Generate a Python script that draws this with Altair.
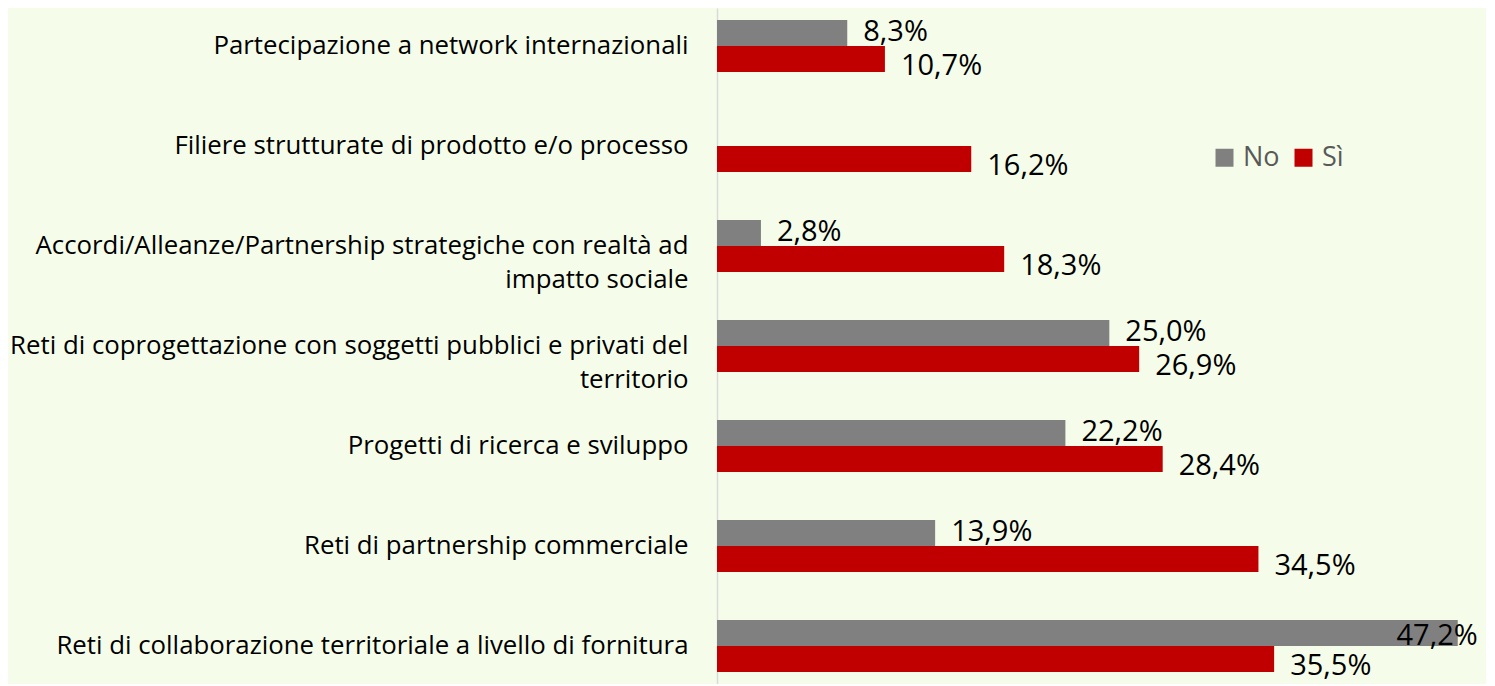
import altair as alt
import pandas as pd

categories = [
    "Partecipazione a network internazionali",
    "Filiere strutturate di prodotto e/o processo",
    "Accordi/Alleanze/Partnership strategiche con realtà ad\nimpatto sociale",
    "Reti di coprogettazione con soggetti pubblici e privati del\nterritorio",
    "Progetti di ricerca e sviluppo",
    "Reti di partnership commerciale",
    "Reti di collaborazione territoriale a livello di fornitura",
]
series = ["No", "Sì"]
values_no = [8.3, None, 2.8, 25.0, 22.2, 13.9, 47.2]
values_si = [10.7, 16.2, 18.3, 26.9, 28.4, 34.5, 35.5]
colors = ["#808080", "#C00000"]

rows = []
for c, n, s in zip(categories, values_no, values_si):
    if n is not None:
        rows.append({"cat": c, "serie": "No", "v": n})
    rows.append({"cat": c, "serie": "Sì", "v": s})
df = pd.DataFrame(rows)
df["lab"] = df["v"].map(lambda x: f"{x:.1f}%".replace(".", ","))

FONT = "Open Sans"

y_enc = alt.Y(
    "cat:N",
    sort=categories,
    scale=alt.Scale(paddingInner=0.48, paddingOuter=0.12),
    axis=alt.Axis(
        title=None,
        labelExpr="split(datum.label, '\\n')",
        labelFont=FONT,
        labelFontSize=25.8,
        labelColor="#000000",
        labelPadding=29,
        labelLineHeight=34,
        labelLimit=0,
        ticks=False,
        domainColor="#D9D9D9",
        domainWidth=1.5,
        grid=False,
    ),
)
yoff = alt.YOffset("serie:N", sort=series, scale=alt.Scale(paddingInner=0, paddingOuter=0))
x_enc = alt.X("v:Q", scale=alt.Scale(domain=[0, 49], nice=False), axis=None)

base = alt.Chart(df)

bars = base.mark_bar().encode(
    y=y_enc,
    yOffset=yoff,
    x=x_enc,
    color=alt.Color(
        "serie:N",
        sort=series,
        scale=alt.Scale(domain=series, range=colors),
        legend=alt.Legend(
            title=None,
            orient="none",
            direction="horizontal",
            legendX=494,
            legendY=136,
            symbolType="square",
            symbolSize=324,
            symbolStrokeWidth=0,
            labelFont=FONT,
            labelFontSize=27,
            labelColor="#595959",
            labelOffset=5,
            padding=0,
        ),
    ),
)

text_style = dict(baseline="middle", font=FONT, fontSize=29, color="#000000")

labels_no = base.transform_filter("datum.v <= 45 && datum.serie == 'No'").mark_text(
    align="left", dx=16, dy=-1, **text_style
).encode(y=y_enc, yOffset=yoff, x=x_enc, text="lab:N")

labels_si = base.transform_filter("datum.v <= 45 && datum.serie == 'Sì'").mark_text(
    align="left", dx=16, dy=7, **text_style
).encode(y=y_enc, yOffset=yoff, x=x_enc, text="lab:N")

labels_in = base.transform_filter("datum.v > 45").mark_text(
    align="right", dx=20, dy=3, **text_style
).encode(y=y_enc, yOffset=yoff, x=x_enc, text="lab:N")

chart = (
    alt.layer(bars, labels_no, labels_si, labels_in)
    .properties(
        width=769,
        height=676,
        autosize=alt.AutoSizeParams(type="none"),
        padding={"left": 709, "top": 0, "right": 0, "bottom": 0},
        background="#F5FDEA",
    )
    .configure_view(stroke=None)
    .configure_legend(columnPadding=10)
)

chart.save("out.html", embed_options={"renderer": "svg", "actions": False})
